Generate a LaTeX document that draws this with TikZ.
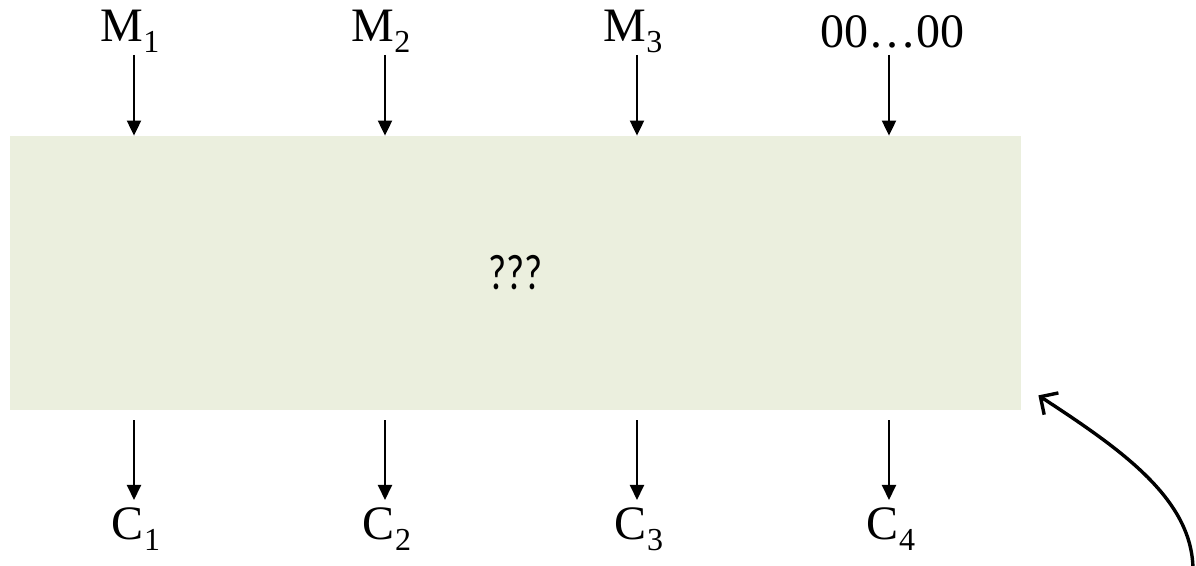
\documentclass[tikz,border=0pt]{standalone}
\usepackage{fontspec}
\setmainfont{Liberation Serif}
\newfontfamily\qfont{Carlito}
\usetikzlibrary{arrows.meta, positioning, calc}

\definecolor{boxgreen}{RGB}{235,239,222}
\newcommand{\lo}[1]{\raisebox{-5.5pt}{\fontsize{16}{16}\selectfont #1}}

\begin{document}
\begin{tikzpicture}[
  x=0.5pt, y=-0.5pt,
  every node/.style={font=\fontsize{24}{28}\selectfont, inner sep=0pt},
  block/.style={fill=boxgreen, minimum width=505.5pt, minimum height=137pt},
  feed/.style={-{Triangle[length=7.5pt, width=7pt]}, line width=1pt},
  back/.style={-{Straight Barb[length=6.5pt, width=13pt]}, line width=1.7pt},
]
  \useasboundingbox (0,0) rectangle (1196,566);

  \node[block] (box) at (515.5,273) {};
  \node[font=\qfont\fontsize{25}{28}\selectfont] (q) at (box.center) {\scalebox{0.78}[1]{???}};

  % inputs
  \node[anchor=base] (m1) at (130,42) {M\lo{1}};
  \node[anchor=base] (m2) at (381,42) {M\lo{2}};
  \node[anchor=base] (m3) at (633,42) {M\lo{3}};
  \node[anchor=base] (m4) at (892,48) {00\ldots00};

  % outputs
  \node[anchor=base] (c1) at (136,540) {C\lo{1}};
  \node[anchor=base] (c2) at (387,540) {C\lo{2}};
  \node[anchor=base] (c3) at (639,540) {C\lo{3}};
  \node[anchor=base] (c4) at (891,540) {C\lo{4}};

  \coordinate (t1) at (134,55);
  \coordinate (t2) at (385,55);
  \coordinate (t3) at (637,55);
  \coordinate (t4) at (889,55);

  \foreach \i in {1,...,4} {
    \draw[feed] (t\i) -- (t\i |- box.north);
    \draw[feed] ([yshift=-5pt]box.south -| t\i) -- (t\i |- 0,500);
  }

  \coordinate (tail) at (1193,572);
  \draw[back] (tail) .. controls (1194,500) and (1122,450) .. ([shift={(8.5pt,7.5pt)}]box.south east);
\end{tikzpicture}
\end{document}
